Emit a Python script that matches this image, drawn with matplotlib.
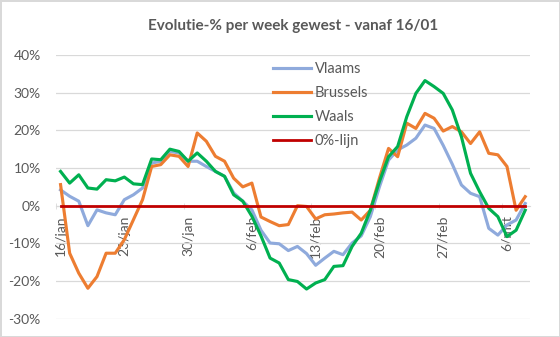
import numpy as np
import matplotlib
matplotlib.use("Agg")
import matplotlib.pyplot as plt
from matplotlib.ticker import FuncFormatter, FixedLocator

plt.rcParams['font.family'] = ['Lato', 'DejaVu Sans']

# Evolutie-% per week, dagelijks vanaf 16/01 (52 dagen)
vlaams = [4.2, 2.5, 1.2, -5.3, -1.1, -1.9, -2.4, 1.6, 2.9, 4.7,
          11.3, 11.8, 14.4, 14.0, 11.8, 11.8, 10.4, 9.1, 7.8, 3.4,
          1.2, -1.1, -6.5, -9.9, -10.1, -11.9, -10.8, -12.7, -15.8, -13.9,
          -12.1, -13.0, -9.9, -8.0, -2.9, 5.0, 12.1, 14.8, 16.1, 17.9,
          21.4, 20.5, 16.0, 11.0, 5.5, 3.3, 2.4, -6.0, -7.8, -5.1,
          -3.8, 0.6]
brussels = [5.6, -12.6, -17.9, -21.9, -18.8, -12.6, -12.6, -9.0, -3.7, 1.6,
            10.4, 10.9, 13.5, 13.1, 10.4, 19.3, 17.1, 13.1, 11.8, 7.3,
            5.0, 6.0, -3.0, -4.2, -5.3, -5.0, 0.0, -0.2, -3.5, -2.4,
            -2.2, -1.9, -1.7, -3.8, -1.2, 7.3, 15.2, 13.0, 21.9, 20.5,
            24.5, 23.2, 19.8, 21.0, 19.6, 16.5, 19.6, 13.9, 13.5, 10.4,
            -1.2, 2.4]
waals = [9.1, 6.0, 8.2, 4.7, 4.4, 6.9, 6.6, 7.6, 5.8, 5.6,
         12.4, 12.2, 15.0, 14.4, 11.8, 14.0, 11.8, 9.1, 7.8, 2.9,
         1.2, -2.8, -8.0, -13.9, -15.2, -19.6, -20.1, -22.1, -20.5, -19.6,
         -16.1, -15.9, -10.8, -7.3, -1.2, 6.4, 13.0, 15.7, 23.6, 29.8,
         33.2, 31.6, 29.8, 25.4, 18.3, 8.6, 3.7, -0.7, -2.9, -8.2,
         -6.5, -1.2]
nullijn = [0.0] * len(vlaams)

datum_labels = ["16/jan", "23/jan", "30/jan", "6/feb", "13/feb", "20/feb", "27/feb", "6/mrt"]

grijs = '#595959'
x = np.arange(len(vlaams))

fig = plt.figure(figsize=(5.6, 3.37), dpi=100, linewidth=1, edgecolor='#d9d9d9')
ax = fig.add_axes([0.1, 0.054, 0.846, 0.783])

ax.plot(x, vlaams, color='#8faadc', lw=2.25, label='Vlaams')
ax.plot(x, brussels, color='#ed7d31', lw=2.25, label='Brussels')
ax.plot(x, waals, color='#00b050', lw=2.25, label='Waals')
ax.plot(x, nullijn, color='#c00000', lw=2.0, label='0%-lijn')

ax.set_xlim(-0.5, len(x) - 0.5)
ax.set_ylim(-30, 40)
ax.set_yticks(np.arange(-30, 41, 10))
ax.yaxis.set_major_formatter(FuncFormatter(lambda v, p: f"{v:.0f}%"))
ax.grid(axis='y', color='#d9d9d9', lw=0.9)
ax.set_axisbelow(True)

# x-as op 0%, labels verticaal
ax.spines['bottom'].set_position(('data', 0))
ax.spines['bottom'].set_color('#d9d9d9')
ax.spines['bottom'].set_zorder(1)
for s in ['top', 'right', 'left']:
    ax.spines[s].set_visible(False)
ax.set_xticks(x[::7])
ax.set_xticklabels(datum_labels, rotation=90, va='top', ha='center')
ax.xaxis.set_minor_locator(FixedLocator(x[::7] - 0.5))
ax.tick_params(axis='x', which='major', length=0, pad=7, labelsize=10, labelcolor=grijs)
ax.tick_params(axis='x', which='minor', length=4, color='#d9d9d9', direction='inout')
ax.tick_params(axis='y', length=0, pad=11, labelsize=10, labelcolor=grijs)

ax.set_title('Evolutie-% per week gewest - vanaf 16/01', fontsize=11, fontweight='bold',
             color=grijs, pad=18)

leg = ax.legend(loc='upper left', bbox_to_anchor=(0.443, 1.0), frameon=False,
                fontsize=10.5, handlelength=2.6, handletextpad=0.25, labelspacing=0.68,
                borderpad=0)
for t in leg.get_texts():
    t.set_color(grijs)

fig.savefig('out.png', dpi=100)
